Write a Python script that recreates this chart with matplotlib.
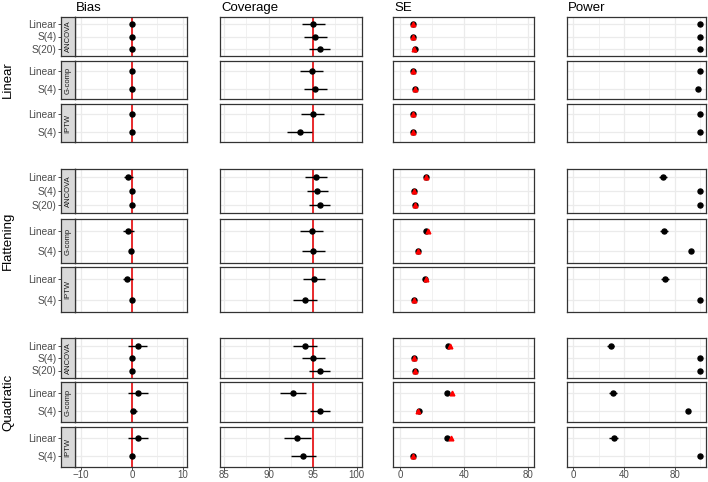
import matplotlib.pyplot as plt
import numpy as np

plt.rcParams['font.family'] = ['Liberation Sans', 'DejaVu Sans']

# Facet structure
scenarios = ["Linear", "Flattening", "Quadratic"]
methods = ["ANCOVA", "G-comp", "IPTW"]
models = [["Linear", "S(4)", "S(20)"], ["Linear", "S(4)"], ["Linear", "S(4)"]]

# one row per scenario; columns are ANCOVA Linear/S(4)/S(20), G-comp Linear/S(4), IPTW Linear/S(4)
bias = np.array([[0.0, 0.0, -0.1, 0.0, -0.1, 0.0, 0.0],
                 [-0.85, 0.0, 0.0, -0.7, -0.25, -0.9, -0.05],
                 [1.1, 0.0, -0.1, 1.1, 0.25, 1.1, 0.0]])
bias_lo = np.array([[-0.3, -0.3, -0.4, -0.3, -0.4, -0.3, -0.3],
                    [-1.6, -0.3, -0.3, -1.7, -0.6, -1.7, -0.35],
                    [-0.7, -0.3, -0.4, -0.8, -0.3, -0.7, -0.3]])
bias_hi = np.array([[0.3, 0.3, 0.2, 0.3, 0.2, 0.3, 0.3],
                    [0.25, 0.3, 0.3, 0.3, 0.2, 0.25, 0.3],
                    [3.0, 0.3, 0.2, 3.1, 0.9, 3.1, 0.3]])

coverage = np.array([[95.1, 95.3, 95.8, 94.9, 95.3, 95.0, 93.55],
                     [95.35, 95.55, 95.8, 94.9, 95.1, 95.2, 94.1],
                     [94.1, 95.1, 95.8, 92.8, 95.8, 93.25, 93.9]])
coverage_lo = np.array([[93.85, 94.0, 94.55, 93.6, 94.0, 93.7, 92.15],
                        [94.15, 94.4, 94.6, 93.6, 93.8, 93.9, 92.75],
                        [92.8, 93.8, 94.55, 91.3, 94.7, 91.8, 92.5]])
coverage_hi = np.array([[96.4, 96.6, 96.95, 96.2, 96.6, 96.3, 94.95],
                        [96.6, 96.8, 97.0, 96.2, 96.4, 96.45, 95.55],
                        [95.5, 96.4, 97.0, 94.3, 97.0, 94.8, 95.4]])

se_emp = np.array([[8.3, 8.3, 9.2, 8.3, 9.6, 8.3, 8.3],
                   [16.25, 8.9, 9.4, 16.25, 11.0, 15.8, 9.0],
                   [29.8, 8.5, 9.4, 29.6, 12.1, 29.6, 8.3]])
se_mod = np.array([[8.3, 8.3, 9.0, 8.3, 9.2, 8.3, 8.3],
                   [16.4, 8.9, 9.2, 17.3, 11.0, 16.5, 8.9],
                   [31.5, 8.5, 9.2, 32.5, 11.3, 31.9, 8.3]])

power = np.array([[100, 100, 99.8, 100, 98.5, 100, 99.8],
                  [70.6, 99.5, 99.8, 71.4, 92.7, 72.2, 99.6],
                  [29.7, 100, 100, 31.5, 90.2, 31.8, 100]])
power_lo = np.array([[99.7, 99.7, 99.5, 99.7, 98.0, 99.7, 99.5],
                     [67.7, 99.2, 99.5, 68.3, 91.5, 69.2, 99.3],
                     [26.8, 99.7, 99.7, 28.5, 89.0, 28.6, 99.7]])
power_hi = np.array([[100, 100, 100, 100, 99.0, 100, 100],
                     [73.5, 99.8, 100, 74.5, 93.9, 75.2, 99.9],
                     [32.5, 100, 100, 34.5, 91.4, 35.2, 100]])

col_titles = ["Bias", "Coverage", "SE", "Power"]

# ---- layout (pixels) ----
W, H = 708, 482
fig = plt.figure(figsize=(W / 100, H / 100), dpi=100)


def box(x0, y0, x1, y1):
    return [x0 / W, 1 - y1 / H, (x1 - x0) / W, (y1 - y0) / H]


col_x = [(75, 187), (220, 362), (393, 534), (567, 706)]
row_y = [[(17, 56), (61, 99), (104, 142)],
         [(169, 213), (219, 263), (267, 312)],
         [(338, 378), (382, 422), (427, 467)]]
xlims = [(-11.2, 10.8), (84.5, 100.6), (-4.4, 83.75), (-4.8, 104.5)]
majors = [[-10, 0, 10], [85, 90, 95, 100], [0, 40, 80], [0, 40, 80]]
minors = [[-5, 5], [87.5, 92.5, 97.5], [20, 60], [20, 60, 100]]
refs = [0, 95, None, None]

border = '#333333'
txt = '#4D4D4D'

starts = [0, 3, 5]
for s in range(3):
    for m in range(3):
        n = len(models[m])
        idx = slice(starts[m], starts[m] + n)
        y = np.arange(1, n + 1)
        y0, y1 = row_y[s][m]
        last = (s == 2 and m == 2)
        for c in range(4):
            x0, x1 = col_x[c]
            ax = fig.add_axes(box(x0, y0, x1, y1))
            ax.set_xlim(*xlims[c])
            ax.set_ylim(n + 0.6, 0.4)
            ax.set_xticks(majors[c])
            ax.set_xticks(minors[c], minor=True)
            ax.set_yticks(y)
            ax.grid(which='major', color='#EBEBEB', lw=0.9, zorder=0)
            ax.grid(which='minor', axis='x', color='#EBEBEB', lw=0.5, zorder=0)
            ax.tick_params(axis='y', length=0, labelleft=False)
            ax.tick_params(axis='x', which='minor', length=0)
            if last:
                ax.tick_params(axis='x', which='major', length=1.8, width=0.6,
                               color=border, labelsize=7, labelcolor=txt, pad=0.4)
                ax.set_xticklabels([str(v).replace('-', '\u2212') for v in majors[c]])
            else:
                ax.tick_params(axis='x', length=0, labelbottom=False)
            for sp in ax.spines.values():
                sp.set_color(border)
                sp.set_linewidth(0.9)
            ax.set_axisbelow(True)
            if refs[c] is not None:
                ax.axvline(refs[c], color='#E8191C', lw=1.3, zorder=2)

            if c == 0:
                est, lo, hi = bias[s, idx], bias_lo[s, idx], bias_hi[s, idx]
            elif c == 1:
                est, lo, hi = coverage[s, idx], coverage_lo[s, idx], coverage_hi[s, idx]
            elif c == 3:
                est, lo, hi = power[s, idx], power_lo[s, idx], power_hi[s, idx]
            if c == 2:
                ax.plot(se_emp[s, idx], y, 'o', color='black', ms=3.6, zorder=3)
                ax.plot(se_mod[s, idx], y, '^', color='red', ms=3.4, zorder=4)
            else:
                ax.hlines(y, lo, hi, color='black', lw=1.0, zorder=3)
                ax.plot(est, y, 'o', color='black', ms=3.6, zorder=4)

        # strip with method label and y tick labels (left of Bias column)
        sax = fig.add_axes(box(61, y0, 75, y1))
        sax.set_facecolor('#D9D9D9')
        sax.set_xlim(0, 1)
        sax.set_ylim(n + 0.6, 0.4)
        sax.set_xticks([])
        sax.set_yticks(y)
        sax.set_yticklabels(models[m])
        sax.tick_params(axis='y', length=2.2, width=0.6, color=border,
                        labelsize=7.3, labelcolor=txt, pad=1)
        for sp in sax.spines.values():
            sp.set_color(border)
            sp.set_linewidth(0.9)
        sax.text(0.5, (n + 1) / 2, methods[m], rotation=90, ha='center',
                 va='center', fontsize=5.5, color='#1A1A1A')

    # scenario label
    yc = (row_y[s][0][0] + row_y[s][2][1]) / 2
    fig.text(8 / W, 1 - yc / H, scenarios[s], rotation=90, ha='center',
             va='center', fontsize=9.5)

for c in range(4):
    fig.text((col_x[c][0] + 1) / W, 1 - 11 / H, col_titles[c], ha='left',
             va='baseline', fontsize=9.5)

fig.savefig('out.png', dpi=100)
